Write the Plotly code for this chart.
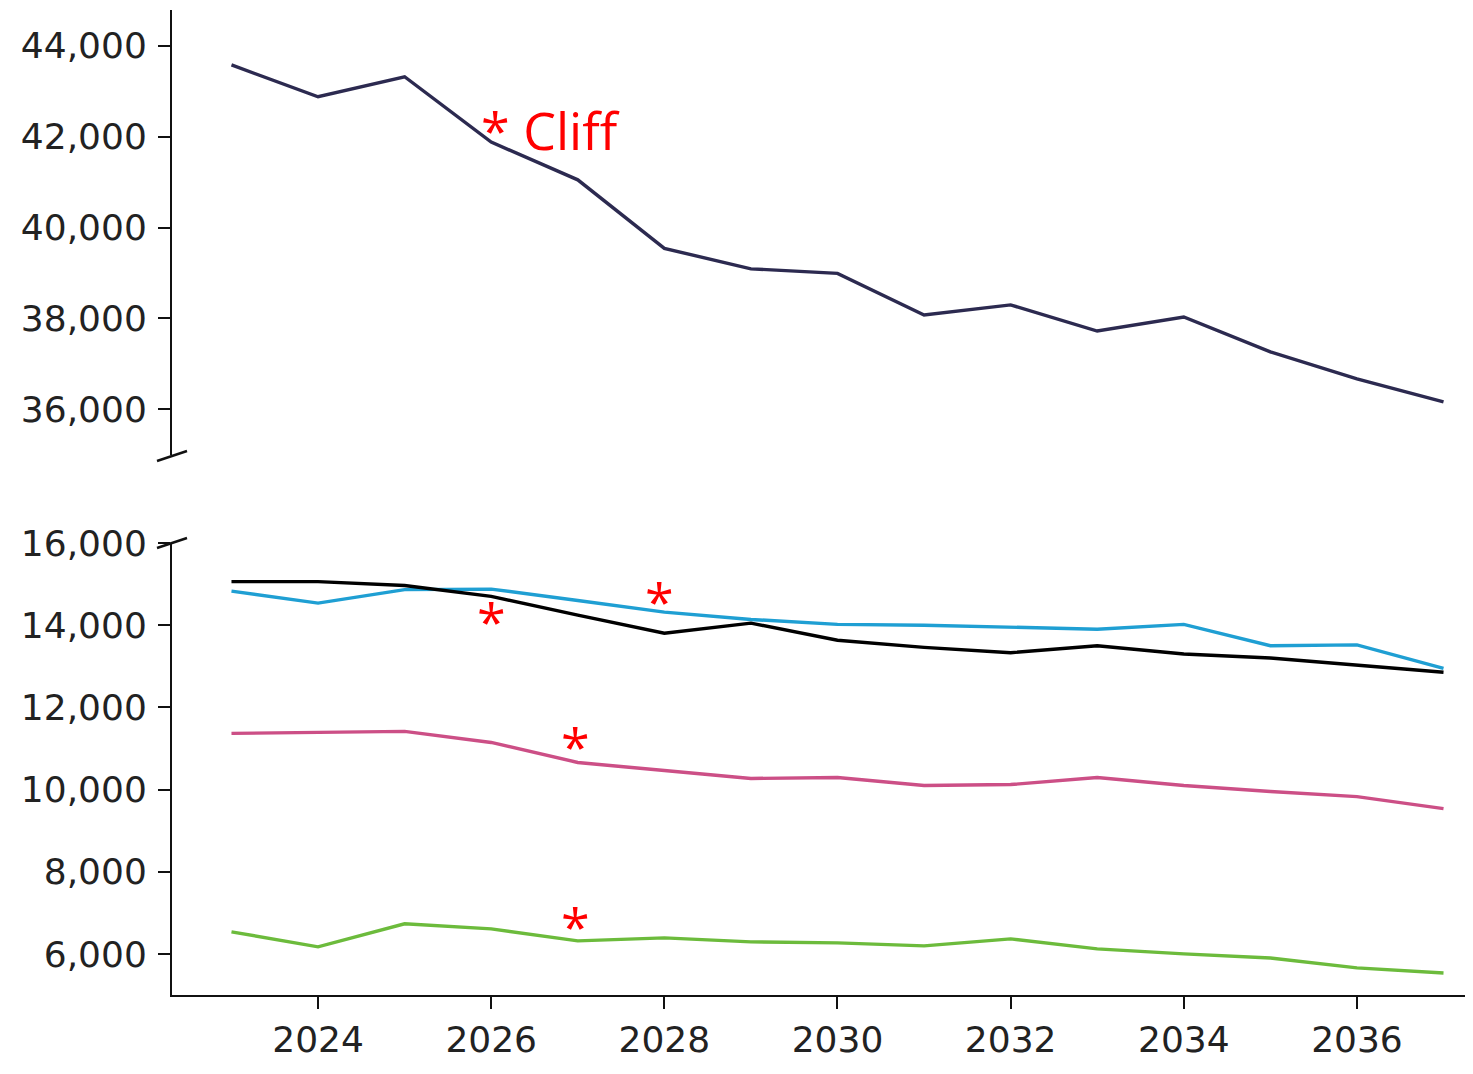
import plotly.graph_objects as go
from plotly.subplots import make_subplots

years = list(range(2023, 2038))

total = [43580, 42880, 43320, 41880, 41050, 39540, 39090, 38990, 38075, 38295, 37720, 38030, 37260, 36665, 36160]
black = [15060, 15060, 14965, 14700, 14244, 13805, 14049, 13634, 13460, 13330, 13500, 13300, 13200, 13030, 12854]
blue = [14829, 14537, 14866, 14878, 14600, 14317, 14140, 14020, 14000, 13951, 13902, 14020, 13500, 13520, 12951]
pink = [11366, 11390, 11415, 11146, 10659, 10463, 10270, 10293, 10098, 10122, 10293, 10098, 9951, 9829, 9537]
green = [6537, 6171, 6732, 6610, 6317, 6390, 6293, 6268, 6195, 6366, 6122, 6000, 5902, 5659, 5537]

top_ticks = [36000, 38000, 40000, 42000, 44000]
bot_ticks = [6000, 8000, 10000, 12000, 14000, 16000]
x_ticks = [2024, 2026, 2028, 2030, 2032, 2034, 2036]

# page body has an 8px margin; compensate so the plot lands where the reference has it
OFF = 8
W, H = 1473, 1074 - OFF
ML, MR, MT, MB = 172 - OFF, 0, 10 - OFF, 79
PH = H - MT - MB

def ypx(yp):  # reference pixel -> paper fraction
    return (H - MB - (yp - OFF)) / PH

def xpx(xp):
    return ((xp - OFF) - ML) / (W - ML - MR)

fig = make_subplots(rows=2, cols=1)

lw = 3.4
fig.add_trace(go.Scatter(x=years, y=total, mode="lines", line=dict(color="#2c2a50", width=lw), showlegend=False), row=1, col=1)
fig.add_trace(go.Scatter(x=years, y=blue, mode="lines", line=dict(color="#1f9fd3", width=lw), showlegend=False), row=2, col=1)
fig.add_trace(go.Scatter(x=years, y=black, mode="lines", line=dict(color="#000000", width=lw), showlegend=False), row=2, col=1)
fig.add_trace(go.Scatter(x=years, y=pink, mode="lines", line=dict(color="#cc4f86", width=lw), showlegend=False), row=2, col=1)
fig.add_trace(go.Scatter(x=years, y=green, mode="lines", line=dict(color="#6cbb3c", width=lw), showlegend=False), row=2, col=1)

xr = [2022.313, 2037.433]
tickfont = dict(family="DejaVu Sans", size=36, color="#222222")
axstyle = dict(showline=True, linecolor="#111111", linewidth=2, ticks="outside", ticklen=12, tickwidth=2,
               tickcolor="#111111", showgrid=False, zeroline=False, tickfont=tickfont, automargin=False)

fig.update_xaxes(range=xr, row=1, col=1, visible=False, domain=[0, 1], automargin=False)
fig.update_xaxes(range=xr, row=2, col=1, domain=[0, 1], tickvals=x_ticks, ticktext=[str(v) for v in x_ticks],
                 **axstyle)

fig.update_yaxes(range=[34990, 44790], row=1, col=1, domain=[ypx(455), ypx(10)], tickvals=top_ticks,
                 ticktext=[f"{v:,}" for v in top_ticks], ticklabelstandoff=4, **axstyle)
fig.update_yaxes(range=[5000, 16000], row=2, col=1, domain=[ypx(995), ypx(543)], tickvals=bot_ticks,
                 ticktext=[f"{v:,}" for v in bot_ticks], ticklabelstandoff=4, **axstyle)

# axis break marks
for yc in (456, 543):
    fig.add_shape(type="line", xref="paper", yref="paper",
                  x0=xpx(157), y0=ypx(yc + 5), x1=xpx(187), y1=ypx(yc - 5),
                  line=dict(color="#111111", width=2.5))

red = "#ff0000"
fig.add_annotation(x=2025.86, y=42150, xref="x", yref="y", text="* Cliff", showarrow=False,
                   xanchor="left", yanchor="middle", font=dict(family="Open Sans", size=52, color=red))
stars = [(2026.0, 14122), (2027.94, 14610), (2026.97, 11073), (2026.97, 6683)]
for sx, sy in stars:
    fig.add_annotation(x=sx, y=sy, xref="x2", yref="y2", text="*", showarrow=False,
                       xanchor="center", yanchor="middle", font=dict(family="Open Sans", size=52, color=red))

fig.update_layout(width=W, height=H, margin=dict(l=ML, r=MR, t=MT, b=MB, autoexpand=False),
                  paper_bgcolor="white", plot_bgcolor="white")

fig.write_html("out.html")
